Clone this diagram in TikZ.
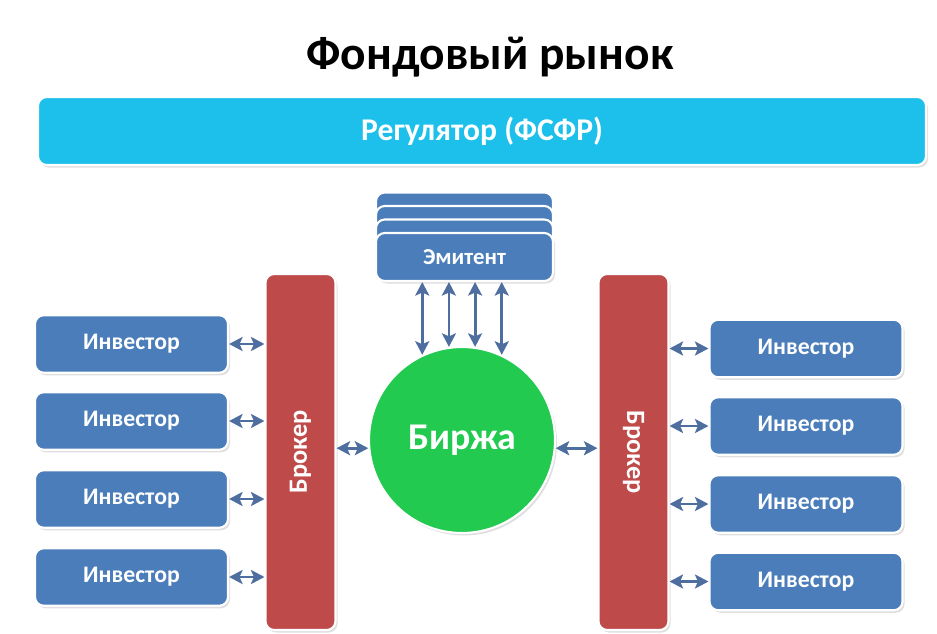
\documentclass[tikz,border=0pt]{standalone}
\usepackage{fontspec}
\setmainfont{Carlito}
\usepackage{graphicx}
\usepackage{tikz}
\usetikzlibrary{arrows.meta,positioning,calc,shadows}
\definecolor{marketcyan}{HTML}{1CC0EA}
\definecolor{marketblue}{HTML}{4A7DB9}
\definecolor{marketred}{HTML}{BF4A4A}
\definecolor{marketgreen}{HTML}{22CA50}
\definecolor{marketarrow}{HTML}{4E6E9F}

\begin{document}
\begin{tikzpicture}[
  box/.style={
    rectangle,
    rounded corners=5pt,
    draw=white,
    line width=1.2pt,
    text=white,
    align=center,
    drop shadow={shadow xshift=0.04cm, shadow yshift=-0.05cm, opacity=0.25}
  },
  investor/.style={
    box,
    fill=marketblue,
    minimum width=3.86cm,
    minimum height=1.15cm,
    font=\fontsize{13.5}{15}\selectfont\bfseries
  },
  broker/.style={
    box,
    fill=marketred,
    minimum width=1.4cm,
    minimum height=7.12cm,
    font=\fontsize{15}{17}\selectfont\bfseries
  },
  issuer/.style={
    box,
    fill=marketblue,
    minimum width=3.54cm,
    minimum height=0.96cm,
    font=\fontsize{13}{15}\selectfont\bfseries
  },
  stripe/.style={
    rectangle,
    rounded corners=5pt,
    draw=white,
    line width=1.2pt,
    fill=marketblue,
    minimum width=3.54cm,
    minimum height=0.96cm
  },
  link/.style={
    {Stealth[length=2.7mm,width=2.8mm,inset=0.6mm]}-{Stealth[length=2.7mm,width=2.8mm,inset=0.6mm]},
    line width=1.6pt,
    draw=marketarrow
  }
]
\useasboundingbox (0,0) rectangle (18.74,12.66);

\node[font=\fontsize{27}{30}\selectfont\bfseries] (title) at (9.8,11.52) {Фондовый рынок};

\node[box, fill=marketcyan, minimum width=17.76cm, minimum height=1.36cm,
  font=\fontsize{18}{20}\selectfont\bfseries] (reg) at (9.64,10.04) {Регулятор (ФСФР)};

% issuer: stacked cards
\foreach \k in {3,2,1} {
  \node[stripe, yshift=\k*0.27cm] (emit\k) at (9.29,7.52) {};
}
\node[issuer] (emit) at (9.29,7.52) {Эмитент};

\node[broker] (brokerL) at (6.01,3.62) {\rotatebox{90}{Брокер}};
\node[broker] (brokerR) at (12.67,3.62) {\rotatebox{-90}{Брокер}};

\node[circle, fill=marketgreen, draw=white, line width=1.2pt, minimum size=3.72cm,
  text=white, font=\fontsize{21.5}{24}\selectfont\bfseries,
  drop shadow={shadow xshift=0.04cm, shadow yshift=-0.05cm, opacity=0.25}] (exch) at (9.24,3.86) {Биржа};

\foreach \i/\y in {1/5.78,2/4.24,3/2.68,4/1.12} {
  \node[investor] (invL\i) at (2.63,\y) {Инвестор};
  \draw[link] (invL\i.east) -- (invL\i.east -| brokerL.west);
}
\foreach \i/\y in {1/5.69,2/4.14,3/2.58,4/1.03} {
  \node[investor] (invR\i) at (16.12,\y) {Инвестор};
  \draw[link] (invR\i.west) -- (invR\i.west -| brokerR.east);
}

\draw[link] (brokerL.east |- exch.185) -- (exch.185);
\draw[link] (exch.355) -- (exch.355 -| brokerR.west);

\foreach \a in {115,98,82,65} {
  \draw[link] (exch.\a |- emit.south) -- (exch.\a);
}

\end{tikzpicture}
\end{document}
